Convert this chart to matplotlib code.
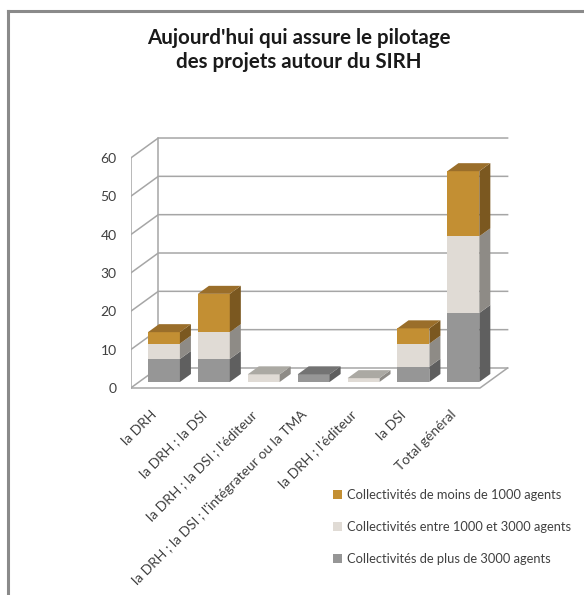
import matplotlib
matplotlib.use("Agg")
import matplotlib.pyplot as plt
from matplotlib.patches import Polygon
import numpy as np

plt.rcParams['font.family'] = ['Lato', 'DejaVu Sans']

categories = ["la DRH", "la DRH ; la DSI", "la DRH ; la DSI ; l'éditeur",
              "la DRH ; la DSI ; l'intégrateur ou la TMA", "la DRH ; l'éditeur",
              "la DSI", "Total général"]
plus_3000 = [6, 6, 0, 2, 0, 4, 18]
entre_1000_3000 = [4, 7, 2, 0, 1, 6, 20]
moins_1000 = [3, 10, 0, 0, 0, 4, 17]
series_labels = ["Collectivités de plus de 3000 agents",
                 "Collectivités entre 1000 et 3000 agents",
                 "Collectivités de moins de 1000 agents"]
yticks = [0, 10, 20, 30, 40, 50, 60]

series = [plus_3000, entre_1000_3000, moins_1000]
front_cols = ["#969696", "#E0DBD5", "#C38F33"]
side_cols = ["#5F5F5F", "#8E8B86", "#7B5820"]
top_cols = ["#737373", "#ABA9A3", "#9A6E2A"]

fig = plt.figure(figsize=(5.84, 5.95), dpi=100)
W, H = 584, 595
pxu_x = 49.9
pxu_y = 3.833
xlim = (-0.5, 7.1)
ylim = (-1, 66)
left_px = 130.7
bottom_px = 388 + (0 - ylim[0]) * pxu_y
ax = fig.add_axes([left_px / W, (H - bottom_px) / H,
                   (xlim[1] - xlim[0]) * pxu_x / W,
                   (ylim[1] - ylim[0]) * pxu_y / H])
ax.set_xlim(*xlim)
ax.set_ylim(*ylim)
for s in ax.spines.values():
    s.set_visible(False)

# depth vector (front plane -> back wall), in data units
dX, dY = 0.553, 5.22
gcol = "#A6A6A6"
x0, x1 = -0.5, 6.5
ymax = yticks[-1]
# walls
for v in yticks:
    ax.plot([x0, x0 + dX, x1 + dX], [v, v + dY, v + dY], color=gcol, lw=1.1, zorder=1)
ax.plot([x0, x0], [0, ymax], color=gcol, lw=1.1, zorder=1)
ax.plot([x0 + dX, x0 + dX], [dY, ymax + dY], color=gcol, lw=1.1, zorder=1)
ax.plot([x0, x1, x1 + dX], [0, 0, dY], color=gcol, lw=1.1, zorder=1)

# bars
f0, f1 = 0.30, 0.70
width = 0.64
idx = np.arange(len(categories))
ox, oy = f0 * dX, f0 * dY
ddx, ddy = (f1 - f0) * dX, (f1 - f0) * dY
base = np.zeros(len(categories))
handles = []
totals = np.sum(series, axis=0)
for k, vals in enumerate(series):
    vals = np.array(vals, dtype=float)
    h = ax.bar(idx + ox, vals, bottom=base + oy, width=width, color=front_cols[k],
               edgecolor='none', zorder=3, label=series_labels[k])
    handles.append(h)
    for i in idx:
        if vals[i] <= 0:
            continue
        b = base[i] + oy
        t = base[i] + vals[i] + oy
        xl = i + ox - width / 2
        xr = i + ox + width / 2
        ax.add_patch(Polygon([(xr, b), (xr + ddx, b + ddy), (xr + ddx, t + ddy), (xr, t)],
                             closed=True, facecolor=side_cols[k], edgecolor='none', zorder=3))
        if np.isclose(base[i] + vals[i], totals[i]):
            ax.add_patch(Polygon([(xl, t), (xr, t), (xr + ddx, t + ddy), (xl + ddx, t + ddy)],
                                 closed=True, facecolor=top_cols[k], edgecolor='none', zorder=3))
    base = base + vals

ax.set_yticks(yticks)
ax.set_yticklabels([str(v) for v in yticks], fontsize=10, color="#404040")
ax.tick_params(axis='y', length=0, pad=10)
ax.set_xticks(idx - 0.1)
ax.set_xticklabels(categories, rotation=45, ha='right', va='top',
                   rotation_mode='anchor', fontsize=10, color="#404040")
ax.tick_params(axis='x', length=0, pad=12)

# title
fig.text(299 / W, 1 - 38 / H, "Aujourd'hui qui assure le pilotage", ha='center', va='center',
         fontsize=14.8, fontweight='bold', color="#1a1a1a")
fig.text(299 / W, 1 - 62 / H, "des projets autour du SIRH", ha='center', va='center',
         fontsize=14.8, fontweight='bold', color="#1a1a1a")

# legend
leg = fig.legend(handles=handles[::-1], labels=series_labels[::-1], loc='upper left',
                 bbox_to_anchor=(321 / W, 1 - 477 / H), frameon=False, fontsize=9.3,
                 handlelength=0.7, handleheight=0.7, handletextpad=0.4, labelspacing=1.55,
                 labelcolor="#404040")

# outer border lines
fig.add_artist(plt.Line2D([8 / W, 8 / W], [0, 1 - 11 / H], color="#8A8A8A", lw=2.2))
fig.add_artist(plt.Line2D([8 / W, 1], [1 - 11 / H, 1 - 11 / H], color="#8A8A8A", lw=2.2))

fig.savefig("out.png", dpi=100)
